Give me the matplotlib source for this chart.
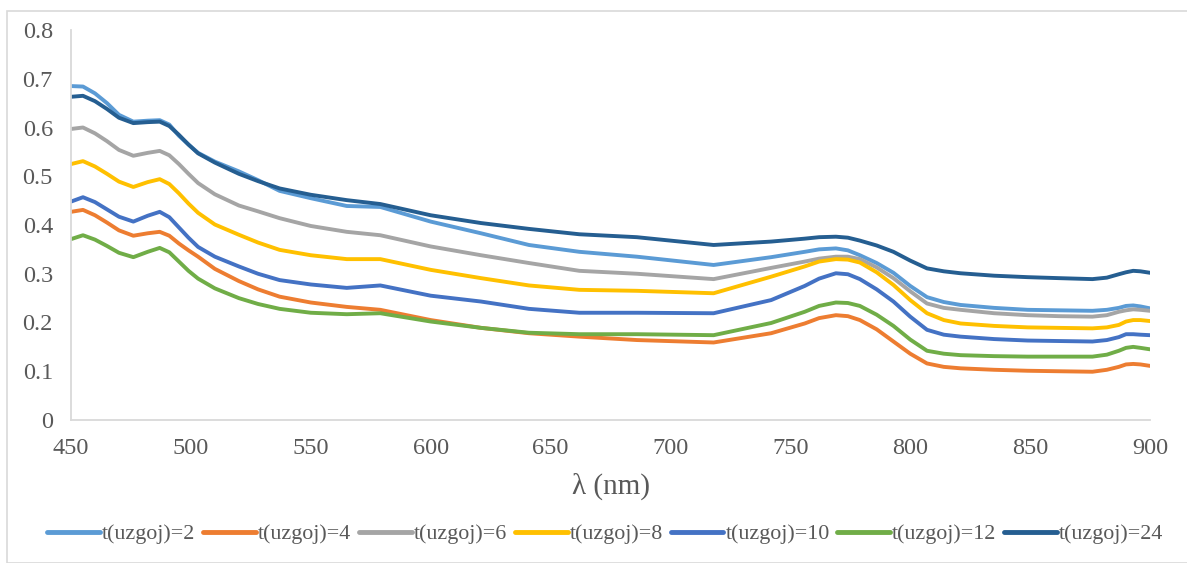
import matplotlib
matplotlib.use("Agg")
import matplotlib.pyplot as plt
from matplotlib.patches import Rectangle

plt.rcParams['font.family'] = ['Liberation Serif', 'DejaVu Serif']

wavelength = [450, 455, 460, 465, 470, 476, 482, 487, 491, 495, 499, 503, 510, 520, 528,
              537, 550, 565, 579, 600, 621, 641, 662, 686, 718, 742, 756, 762, 769, 774,
              779, 786, 793, 800, 807, 814, 821, 835, 849, 862, 876, 882, 887, 890, 893,
              896, 900]

t2 = [.685, .684, .670, .650, .626, .612, .614, .615, .606, .583, .565, .548, .530, .510, .492,
      .470, .455, .439, .437, .407, .383, .359, .345, .335, .318, .334, .345, .350, .352, .348,
      .338, .322, .302, .275, .252, .242, .236, .230, .226, .225, .224, .226, .230, .234, .235,
      .233, .229]
t4 = [.427, .431, .420, .405, .389, .378, .383, .386, .378, .362, .348, .335, .310, .285, .268,
      .253, .241, .232, .226, .205, .189, .178, .171, .164, .159, .178, .198, .209, .215, .213,
      .205, .186, .161, .136, .116, .109, .106, .103, .101, .100, .099, .103, .109, .114, .115,
      .114, .111]
t6 = [.597, .600, .588, .572, .554, .542, .548, .552, .543, .525, .505, .486, .463, .440, .428,
      .414, .398, .386, .379, .356, .338, .322, .306, .300, .289, .312, .325, .331, .335, .335,
      .330, .313, .291, .264, .239, .230, .226, .219, .215, .213, .212, .215, .222, .225, .227,
      .226, .224]
t8 = [.525, .531, .520, .505, .489, .478, .488, .494, .484, .465, .444, .425, .401, .380, .364,
      .349, .338, .330, .330, .308, .291, .276, .267, .265, .260, .294, .315, .325, .330, .329,
      .323, .303, .277, .246, .219, .205, .198, .193, .190, .189, .188, .190, .195, .202, .205,
      .205, .203]
t10 = [.448, .457, .447, .432, .417, .407, .419, .427, .416, .395, .374, .355, .335, .315, .300,
       .287, .278, .271, .276, .255, .243, .228, .220, .220, .219, .246, .275, .290, .301, .299,
       .289, .268, .243, .212, .185, .175, .171, .166, .163, .162, .161, .164, .170, .176, .176,
       .175, .174]
t12 = [.371, .379, .370, .357, .343, .334, .345, .353, .344, .325, .306, .290, .270, .250, .238,
       .228, .220, .217, .219, .202, .189, .179, .176, .176, .174, .199, .222, .234, .241, .240,
       .234, .216, .193, .165, .142, .136, .133, .131, .130, .130, .130, .134, .142, .148, .150,
       .148, .145]
t24 = [.663, .665, .654, .638, .620, .609, .611, .612, .603, .585, .565, .547, .528, .505, .490,
       .475, .462, .451, .443, .420, .404, .392, .381, .375, .359, .366, .372, .375, .376, .374,
       .368, .358, .345, .327, .311, .305, .301, .296, .293, .291, .289, .292, .299, .303, .306,
       .305, .302]

labels = ["t(uzgoj)=2", "t(uzgoj)=4", "t(uzgoj)=6", "t(uzgoj)=8",
          "t(uzgoj)=10", "t(uzgoj)=12", "t(uzgoj)=24"]
series = [t2, t4, t6, t8, t10, t12, t24]
colors = ["#5B9BD5", "#ED7D31", "#A5A5A5", "#FFC000", "#4472C4", "#70AD47", "#255E91"]

x_ticks = [450, 500, 550, 600, 650, 700, 750, 800, 850, 900]
y_ticks = [0, 0.1, 0.2, 0.3, 0.4, 0.5, 0.6, 0.7, 0.8]
y_tick_labels = ["0", "0.1", "0.2", "0.3", "0.4", "0.5", "0.6", "0.7", "0.8"]

for s in series:
    assert len(s) == len(wavelength)

W, H = 1187, 563
fig = plt.figure(figsize=(W / 100, H / 100), dpi=100)
ax = fig.add_axes([71 / W, 1 - 420 / H, (1150 - 71) / W, 390 / H])

for ys, lab, c in zip(series, labels, colors):
    ax.plot(wavelength, ys, color=c, lw=2.8, label=lab, solid_capstyle='round',
            solid_joinstyle='round')

ax.set_xlim(450, 900)
ax.set_ylim(0, 0.8)
ax.set_xticks(x_ticks)
ax.set_xticklabels([str(v) for v in x_ticks])
ax.set_yticks(y_ticks)
ax.set_yticklabels(y_tick_labels)
ax.tick_params(axis='both', length=0, labelsize=17.5, labelcolor='#595959', pad=13)
for s in ['top', 'right']:
    ax.spines[s].set_visible(False)
for s in ['left', 'bottom']:
    ax.spines[s].set_color('#D9D9D9')
    ax.spines[s].set_linewidth(1.3)

ax.set_xlabel("λ (nm)", fontsize=21, color='#595959', labelpad=10)

leg = fig.legend(loc='center', bbox_to_anchor=(0.5 + 12 / W, 1 - 534 / H), ncol=7,
                 frameon=False, fontsize=15.8, handlelength=2.4, handletextpad=0.1,
                 columnspacing=0.35, labelcolor='#595959')
for line in leg.get_lines():
    line.set_linewidth(3.5)

fig.patches.append(Rectangle((7 / W, 0), 1.1, 1 - 11 / H, transform=fig.transFigure,
                             fill=False, edgecolor='#D9D9D9', lw=1.2))

fig.savefig("out.png", dpi=100)
